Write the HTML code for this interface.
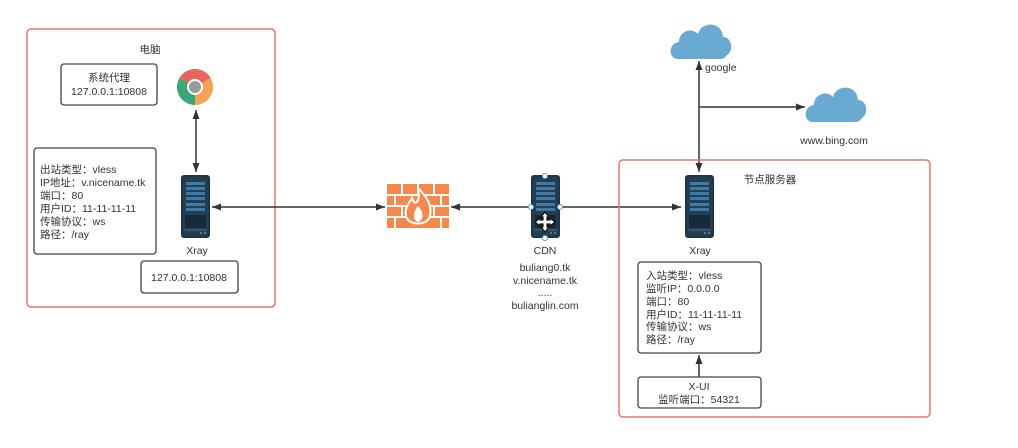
<!DOCTYPE html>
<html><head><meta charset="utf-8"><style>
html,body{margin:0;padding:0;background:#fff;}
svg{display:block;font-family:"Liberation Sans","Noto Sans CJK SC",sans-serif;}
text{fill:#333;font-size:10.5px;}
</style></head><body>
<svg width="1018" height="448" viewBox="0 0 1018 448" xmlns="http://www.w3.org/2000/svg">
<defs>
<marker id="a" markerWidth="10" markerHeight="10" refX="9" refY="5" orient="auto" markerUnits="userSpaceOnUse">
<path d="M0,1.5 L9,5 L0,8.5 Z" fill="#333"/></marker>
<marker id="as" markerWidth="10" markerHeight="10" refX="1" refY="5" orient="auto" markerUnits="userSpaceOnUse">
<path d="M10,1.5 L1,5 L10,8.5 Z" fill="#333"/></marker>
<g id="srv">
<rect x="0" y="0" width="29" height="63" rx="3" fill="#1e3547"/>
<rect x="2" y="2" width="25" height="59" rx="2" fill="#223e52"/>
<rect x="5" y="7" width="19" height="3" fill="#3f7aa6"/>
<rect x="5" y="12" width="19" height="3" fill="#3f7aa6"/>
<rect x="5" y="17" width="19" height="3" fill="#3f7aa6"/>
<rect x="5" y="22" width="19" height="3" fill="#3f7aa6"/>
<rect x="5" y="28" width="19" height="3" fill="#3f7aa6"/>
<rect x="5" y="33" width="19" height="3" fill="#3f7aa6"/>
<rect x="4" y="40" width="21" height="13" fill="#17293a"/>
<line x1="3" y1="55" x2="26" y2="55" stroke="#4a6a82" stroke-width="1"/>
<circle cx="20" cy="58" r="1" fill="#6a8aa2"/><circle cx="24" cy="58" r="1" fill="#6a8aa2"/>
</g>
<g id="cloud">
<path d="M8,42 C-2,42 -2,26 9,25 C9,14 22,10 28,17 C31,4 52,4 53,20 C62,20 64,34 57,38 C55,41 53,42 50,42 Z" fill="#6aa9d2"/>
</g>
</defs>

<!-- left container -->
<rect x="27" y="29" width="248" height="278" rx="4" fill="none" stroke="#e5766b" stroke-width="1.5"/>
<text x="150" y="53" text-anchor="middle">电脑</text>
<rect x="61" y="64" width="96" height="41" rx="3" fill="#fff" stroke="#444" stroke-width="1.3"/>
<text x="109" y="81" text-anchor="middle">系统代理</text>
<text x="109" y="95" text-anchor="middle">127.0.0.1:10808</text>
<!-- chrome -->
<g transform="translate(195,87)">
<path d="M0,0 L-15.6,-9 A18,18 0 0 1 15.6,-9 Z" fill="#e8655d"/>
<path d="M0,0 L15.6,-9 A18,18 0 0 1 0,18 Z" fill="#f3a352"/>
<path d="M0,0 L0,18 A18,18 0 0 1 -15.6,-9 Z" fill="#3aa77a"/>
<circle r="8" fill="#fff"/><circle r="6" fill="#9a9a9a"/>
</g>
<line x1="196" y1="110" x2="196" y2="172" stroke="#333" stroke-width="1.5" marker-start="url(#as)" marker-end="url(#a)"/>
<rect x="34" y="148" width="122" height="106" rx="3" fill="#fff" stroke="#444" stroke-width="1.3"/>
<text x="40" y="173">出站类型：vless</text>
<text x="40" y="186">IP地址：v.nicename.tk</text>
<text x="40" y="199">端口：80</text>
<text x="40" y="212">用户ID：11-11-11-11</text>
<text x="40" y="225">传输协议：ws</text>
<text x="40" y="238">路径：/ray</text>
<use href="#srv" x="181" y="175"/>
<text x="197" y="254" text-anchor="middle">Xray</text>
<rect x="141" y="261" width="97" height="32" rx="3" fill="#fff" stroke="#444" stroke-width="1.3"/>
<text x="189" y="281" text-anchor="middle">127.0.0.1:10808</text>

<!-- links -->
<line x1="212" y1="207" x2="385" y2="207" stroke="#333" stroke-width="1.5" marker-start="url(#as)" marker-end="url(#a)"/>
<line x1="531" y1="207" x2="451" y2="207" stroke="#333" stroke-width="1.5" marker-end="url(#a)"/>
<line x1="560" y1="207" x2="681" y2="207" stroke="#333" stroke-width="1.5" marker-end="url(#a)"/>

<!-- firewall -->
<g fill="#f4894b">
<rect x="387" y="184" width="62" height="44" fill="#f4894b"/>
</g>
<g stroke="#fff" stroke-width="2">
<line x1="387" y1="195" x2="449" y2="195"/><line x1="387" y1="206" x2="449" y2="206"/><line x1="387" y1="217" x2="449" y2="217"/>
<line x1="402" y1="184" x2="402" y2="195"/><line x1="418" y1="184" x2="418" y2="195"/><line x1="434" y1="184" x2="434" y2="195"/>
<line x1="395" y1="195" x2="395" y2="206"/><line x1="441" y1="195" x2="441" y2="206"/>
<line x1="402" y1="206" x2="402" y2="217"/><line x1="434" y1="206" x2="434" y2="217"/>
<line x1="395" y1="217" x2="395" y2="228"/><line x1="441" y1="217" x2="441" y2="228"/>
</g>
<path d="M418,188 C428,198 432,206 430,216 C428,226 408,226 406,216 C404,208 410,202 412,198 C414,204 416,204 418,200 C420,196 418,192 418,188 Z" fill="#f4894b" stroke="#fff" stroke-width="2"/>
<path d="M418,206 C424,212 424,220 418,222 C412,220 413,212 418,206 Z" fill="#fff"/>

<!-- CDN -->
<use href="#srv" x="531" y="175"/>
<g fill="#fff" stroke="#5b9bd5" stroke-width="1">
<circle cx="545" cy="176" r="2.5"/><circle cx="531" cy="207" r="2.5"/><circle cx="560" cy="207" r="2.5"/><circle cx="545" cy="238" r="2.5"/>
</g>
<path d="M545,212 L549,217 L547,217 L547,220 L550,220 L550,218 L555,222 L550,226 L550,224 L547,224 L547,227 L549,227 L545,232 L541,227 L543,227 L543,224 L540,224 L540,226 L535,222 L540,218 L540,220 L543,220 L543,217 L541,217 Z" fill="#fff" stroke="#111" stroke-width="1.2"/>
<text x="545" y="254" text-anchor="middle">CDN</text>
<text x="545" y="271" text-anchor="middle">buliang0.tk</text>
<text x="545" y="284" text-anchor="middle">v.nicename.tk</text>
<text x="545" y="296" text-anchor="middle">.....</text>
<text x="545" y="309" text-anchor="middle">bulianglin.com</text>

<!-- clouds -->
<use href="#cloud" x="670" y="17"/>
<text x="705" y="71">google</text>
<use href="#cloud" x="805" y="80"/>
<text x="834" y="144" text-anchor="middle">www.bing.com</text>
<line x1="699" y1="61" x2="699" y2="172" stroke="#333" stroke-width="1.5" marker-start="url(#as)" marker-end="url(#a)"/>
<line x1="699" y1="107" x2="805" y2="107" stroke="#333" stroke-width="1.5" marker-end="url(#a)"/>

<!-- right container -->
<rect x="619" y="160" width="311" height="257" rx="4" fill="none" stroke="#e5766b" stroke-width="1.5"/>
<text x="770" y="183" text-anchor="middle">节点服务器</text>
<use href="#srv" x="685" y="175"/>
<text x="700" y="254" text-anchor="middle">Xray</text>
<rect x="638" y="262" width="123" height="91" rx="3" fill="#fff" stroke="#444" stroke-width="1.3"/>
<text x="646" y="279">入站类型：vless</text>
<text x="646" y="292">监听IP：0.0.0.0</text>
<text x="646" y="305">端口：80</text>
<text x="646" y="318">用户ID：11-11-11-11</text>
<text x="646" y="330">传输协议：ws</text>
<text x="646" y="343">路径：/ray</text>
<line x1="699" y1="377" x2="699" y2="355" stroke="#333" stroke-width="1.5" marker-end="url(#a)"/>
<rect x="638" y="377" width="123" height="31" rx="3" fill="#fff" stroke="#444" stroke-width="1.3"/>
<text x="699" y="390" text-anchor="middle">X-UI</text>
<text x="699" y="403" text-anchor="middle">监听端口：54321</text>
</svg>
</body></html>
